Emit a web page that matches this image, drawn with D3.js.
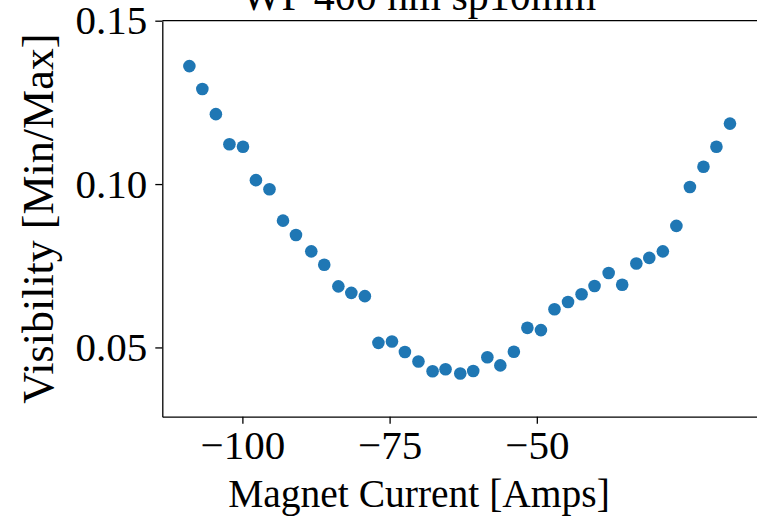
<!DOCTYPE html>
<html>
<head>
<meta charset="utf-8">
<script src="https://cdn.jsdelivr.net/npm/d3@7"></script>
<style>
  html, body { margin: 0; padding: 0; background: #fff; }
  svg { display: block; }
  text { font-family: "Liberation Serif", "Times New Roman", serif; fill: #000; }
</style>
</head>
<body>
<svg id="chart" width="757" height="517"></svg>
<script>
// Magnet current sweep (Amps) and measured fringe visibility (min/max)
const current = [
  -109.0, -106.8, -104.5, -102.2, -99.9, -97.7, -95.4, -93.1, -90.9, -88.3,
  -86.1, -83.7, -81.5, -79.2, -76.9, -74.6, -72.4, -70.1, -67.7, -65.5,
  -63.0, -60.8, -58.4, -56.2, -53.9, -51.6, -49.3, -47.0, -44.7, -42.4,
  -40.2, -37.8, -35.5, -33.1, -30.9, -28.6, -26.3, -24.0, -21.7, -19.5, -17.2
];
const visibility = [
  0.1361, 0.1291, 0.1214, 0.1122, 0.1114, 0.1012, 0.0984, 0.0888, 0.0844, 0.0794,
  0.0753, 0.0687, 0.0667, 0.0657, 0.0514, 0.0518, 0.0486, 0.0457, 0.0427, 0.0433,
  0.0420, 0.0428, 0.0470, 0.0445, 0.0487, 0.0560, 0.0553, 0.0617, 0.0639, 0.0663,
  0.0688, 0.0728, 0.0692, 0.0757, 0.0774, 0.0794, 0.0872, 0.0991, 0.1053, 0.1114, 0.1185
];
const xTicks = [-100, -75, -50];
const yTicks = [0.05, 0.10, 0.15];
const titleText = "WP 400 nm sp10mm";
const xLabel = "Magnet Current [Amps]";
const yLabel = "Visibility [Min/Max]";

const svg = d3.select("#chart");
const plotLeft = 162.3, plotTop = 20.7, plotBottom = 416.7, plotRight = 760;
const axisCenterX = 419;

const x = d3.scaleLinear().domain([-113.6, -12.1]).range([plotLeft, plotRight]);
const y = d3.scaleLinear().domain([0.0288, 0.15]).range([plotBottom, plotTop]);

const fmtY = d3.format(".2f");
const fmtX = d => (d < 0 ? "\u2212" + Math.abs(d) : String(d));

// points
svg.append("g")
  .selectAll("circle")
  .data(d3.range(current.length))
  .join("circle")
  .attr("cx", i => x(current[i]))
  .attr("cy", i => y(visibility[i]))
  .attr("r", 6.3)
  .attr("fill", "#1f77b4");

// axes
const xAxis = d3.axisBottom(x).tickValues(xTicks).tickFormat(fmtX).tickSize(7).tickSizeOuter(0).tickPadding(6);
const yAxis = d3.axisLeft(y).tickValues(yTicks).tickFormat(fmtY).tickSize(7).tickSizeOuter(0).tickPadding(8);

const gx = svg.append("g").attr("transform", `translate(0,${plotBottom})`).call(xAxis);
const gy = svg.append("g").attr("transform", `translate(${plotLeft},0)`).call(yAxis);

[gx, gy].forEach(g => {
  g.selectAll("path.domain").attr("stroke", "#000").attr("stroke-width", 1.3);
  g.selectAll(".tick line").attr("stroke", "#000").attr("stroke-width", 1.3);
  g.selectAll(".tick text").style("font-family", '"Liberation Serif", serif').style("font-size", "41px").attr("fill", "#000");
});

// top spine
svg.append("line")
  .attr("x1", plotLeft).attr("x2", plotRight).attr("y1", plotTop).attr("y2", plotTop)
  .attr("stroke", "#000").attr("stroke-width", 1.3);

// title (runs off the top edge)
svg.append("text")
  .attr("x", axisCenterX).attr("y", 10)
  .attr("text-anchor", "middle")
  .style("font-size", "42px")
  .text(titleText);

// x label
svg.append("text")
  .attr("x", axisCenterX).attr("y", 507)
  .attr("text-anchor", "middle")
  .style("font-size", "39.5px")
  .text(xLabel);

// y label
svg.append("text")
  .attr("transform", `translate(53,${(plotTop + plotBottom) / 2}) rotate(-90)`)
  .attr("text-anchor", "middle")
  .style("font-size", "44px")
  .text(yLabel);
</script>
</body>
</html>
